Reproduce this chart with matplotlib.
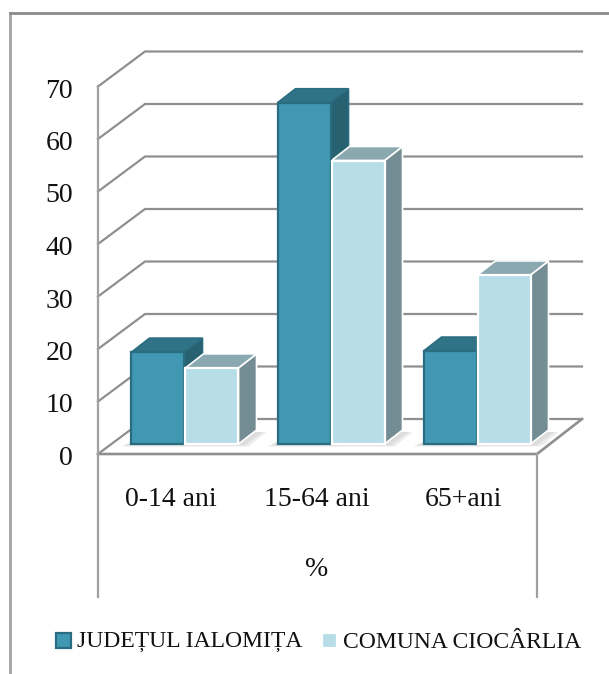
import matplotlib
matplotlib.use("Agg")
import matplotlib.pyplot as plt
from matplotlib.patches import Polygon, Rectangle

categories = ["0-14 ani", "15-64 ani", "65+ani"]
judet = [17.5, 65, 17.7]
comuna = [14.5, 54, 32.2]
series_names = ["JUDEȚUL IALOMIȚA", "COMUNA CIOCÂRLIA"]
yticks = [0, 10, 20, 30, 40, 50, 60, 70]
axis_title = "%"

W, H = 609, 674
plt.rcParams["font.family"] = ["Liberation Serif", "DejaVu Serif"]
fig = plt.figure(figsize=(W / 100, H / 100), dpi=100)
ax = fig.add_axes([0, 0, 1, 1])

# axes: x = category index, y = value; pixel mapping below
PX = 146.0
PY = 5.25
X0 = 185.0   # px of first category's centre
Y0 = 444.0   # px of value 0 on the bar plane
ax.set_xlim(-X0 / PX, (W - X0) / PX)
ax.set_ylim((Y0 - H) / PY, Y0 / PY)
ax.axis("off")

def dx(px):
    return px / PX
def dy(px):
    return px / PY

GRID = "#8f8f8f"
lw = 1.6
vmin_front = -dy(10)          # front floor edge relative to bar plane
ax_left = dx(98 - X0)
wall_left = dx(145 - X0)
wall_right = dx(582 - X0)
floor_right = dx(537 - X0)

# frame
ax.plot([dx(10 - X0)] * 2, [(Y0 - H) / PY, dy(Y0 - 13)], color="#a3a3a3", lw=2.0, zorder=1)
ax.plot([dx(10 - X0), dx(W - X0)], [dy(Y0 - 13)] * 2, color="#8a8a8a", lw=2.0, zorder=1)

# gridlines
for v in yticks:
    yf = v + vmin_front
    yb = yf + dy(35)
    ax.plot([ax_left, wall_left, wall_right], [yf, yb, yb], color=GRID, lw=lw, zorder=1,
            solid_joinstyle="round")
# front floor, vertical axis, category separators
ax.plot([ax_left, floor_right, wall_right],
        [vmin_front, vmin_front, vmin_front + dy(35)], color=GRID, lw=lw + 0.3, zorder=1)
ax.plot([ax_left, ax_left], [vmin_front + 70, dy(Y0 - 597)], color="#a0a0a0", lw=lw, zorder=1)
ax.plot([floor_right, floor_right], [vmin_front, dy(Y0 - 597)], color="#a0a0a0", lw=lw, zorder=1)

BW = 53 / PX
GAP = 1 / PX
DX, DY = dx(18), dy(14)
styles = [
    dict(front="#4198b2", top="#317386", side="#286170", edge="#2a6c80"),
    dict(front="#b7dde8", top="#8aa8b0", side="#748c94", edge="#ffffff"),
]

def bar3d(x, v, st):
    # floor shadow
    for grow, col in [(10, "#ececec"), (6, "#dcdcdc")]:
        ax.add_patch(Polygon([(x - dx(grow), -dy(grow * 0.25)), (x + BW + dx(grow), -dy(grow * 0.25)),
                              (x + BW + DX + dx(grow), DY - dy(2)), (x + DX, DY - dy(2))],
                             closed=True, fc=col, ec="none", zorder=2))
    ax.add_patch(Polygon([(x + BW, 0), (x + BW + DX, DY), (x + BW + DX, v + DY), (x + BW, v)],
                         closed=True, fc=st["side"], ec=st["edge"], lw=1.2, zorder=3))
    ax.add_patch(Polygon([(x, v), (x + DX, v + DY), (x + BW + DX, v + DY), (x + BW, v)],
                         closed=True, fc=st["top"], ec=st["edge"], lw=1.2, zorder=3))
    ax.bar(x, v, width=BW, align="edge", color=st["front"], edgecolor=st["edge"], linewidth=1.6, zorder=4)

for i in range(len(categories)):
    bar3d(i - BW - GAP / 2, judet[i], styles[0])
    bar3d(i + GAP / 2, comuna[i], styles[1])

FS = 20
TXT = "#111111"
for v in yticks:
    ax.text(dx(73 - X0), v + vmin_front - dy(4.5), str(v), ha="right", va="center", fontsize=FS, color=TXT)
for i, c in enumerate(categories):
    ax.text(i - dx(14), dy(Y0 - 499), c, ha="center", va="center", fontsize=FS, color=TXT)
ax.text(dx(317 - X0), dy(Y0 - 570), axis_title, ha="center", va="center", fontsize=FS, color=TXT)

# legend
LY = dy(Y0 - 642)
ax.add_patch(Rectangle((dx(56 - X0), dy(Y0 - 648)), dx(15), dy(15), fc=styles[0]["front"], ec=styles[0]["edge"], lw=1.6, zorder=3))
ax.text(dx(77 - X0), LY, series_names[0], ha="left", va="center", fontsize=17, color=TXT)
ax.add_patch(Rectangle((dx(322 - X0), dy(Y0 - 648)), dx(15), dy(15), fc=styles[1]["front"], ec="#ffffff", lw=1.6, zorder=3))
ax.text(dx(343 - X0), LY, series_names[1], ha="left", va="center", fontsize=17, color=TXT)

fig.savefig("out.png", dpi=100, facecolor="white")
